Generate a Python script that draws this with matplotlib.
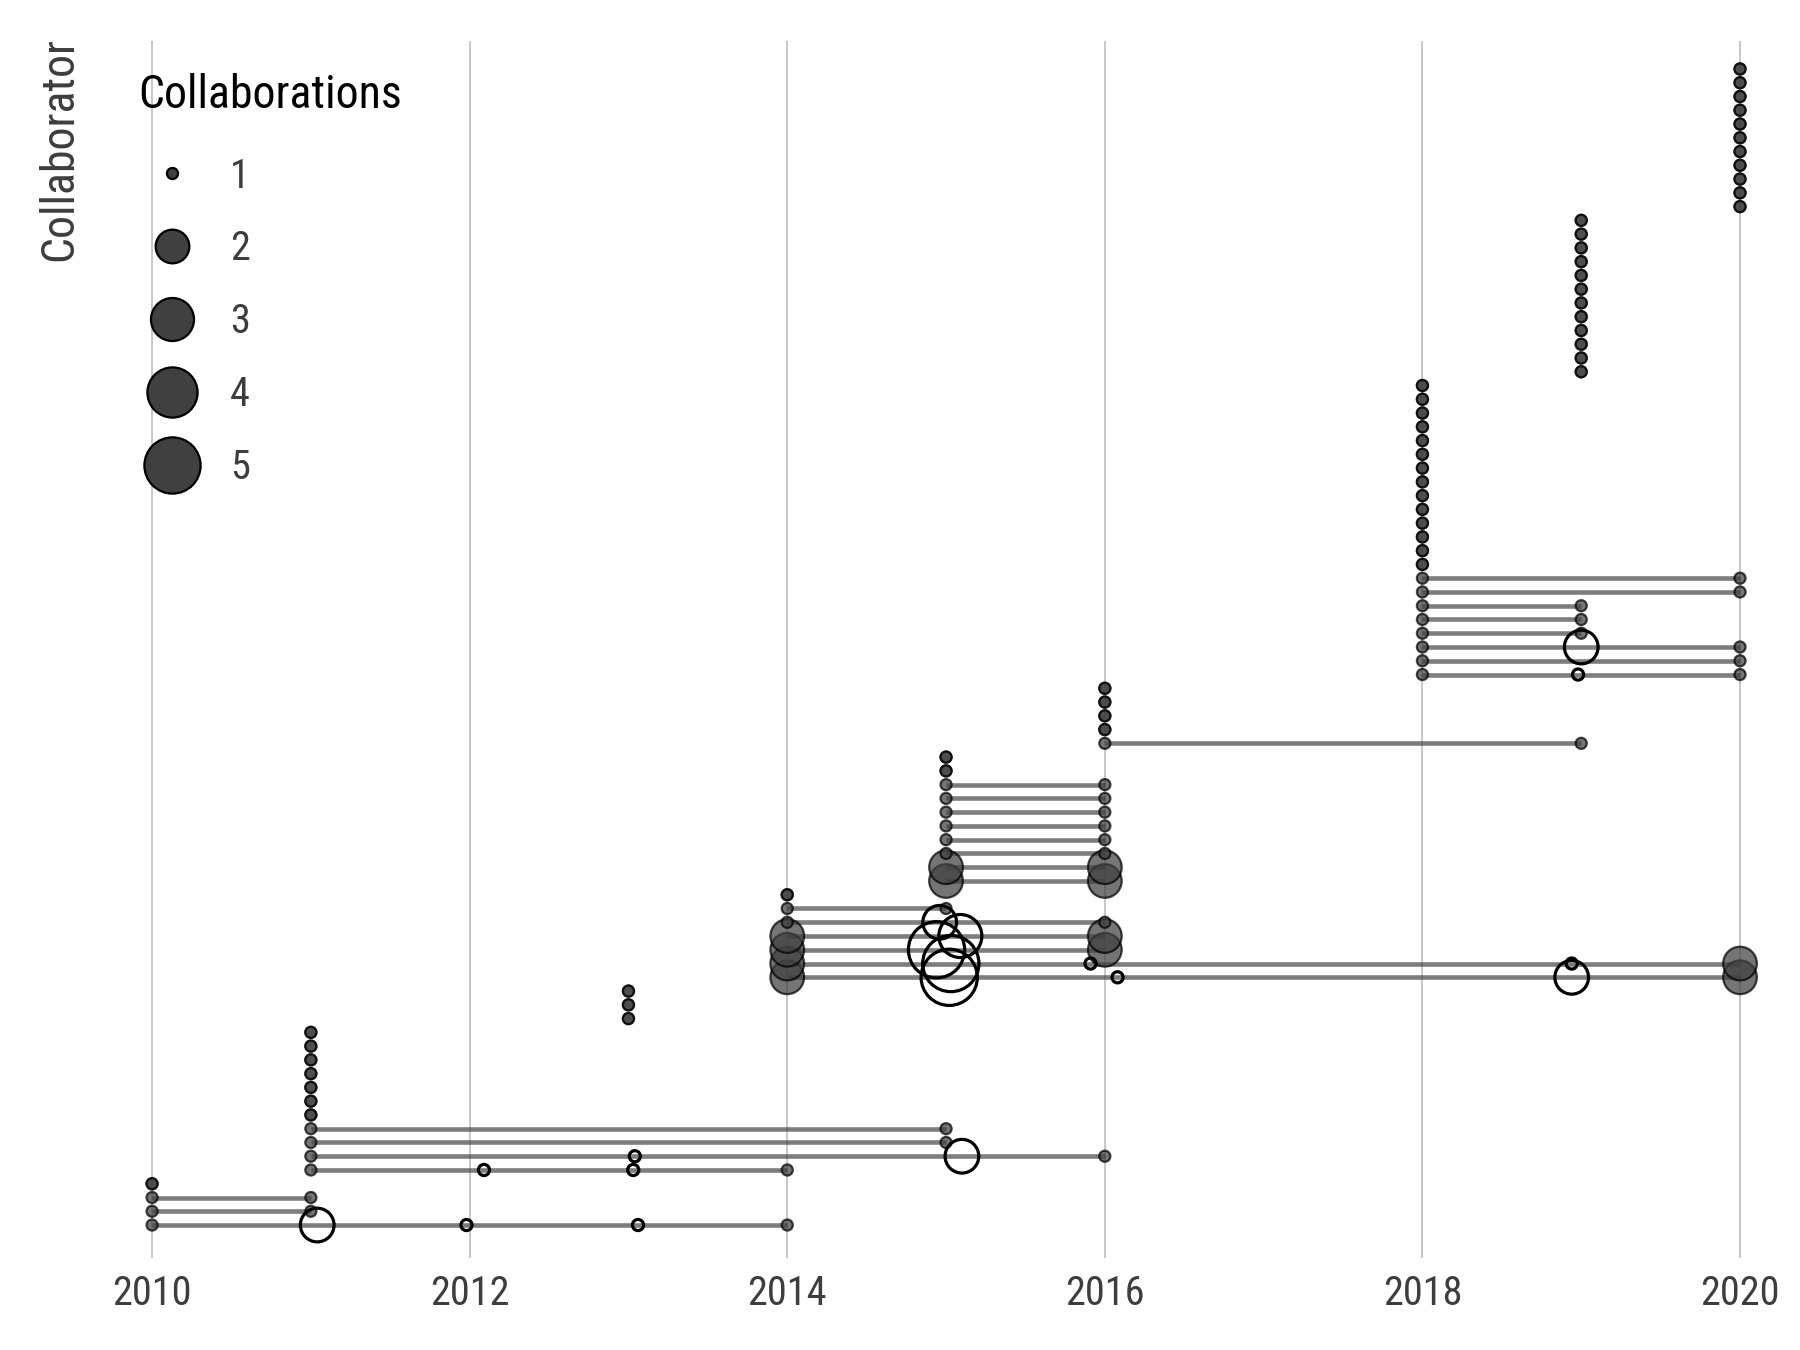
import numpy as np
import matplotlib.pyplot as plt
from matplotlib.lines import Line2D

plt.rcParams['font.family'] = ['Roboto Condensed', 'Archivo Narrow', 'DejaVu Sans']

# one entry per collaborator, listed bottom row first
first_year = [2010, 2010, 2010, 2010,
              2011, 2011, 2011, 2011, 2011, 2011, 2011, 2011, 2011, 2011, 2011,
              2013, 2013, 2013,
              2014, 2014, 2014, 2014, 2014, 2014, 2014,
              2015, 2015, 2015, 2015, 2015, 2015, 2015, 2015, 2015, 2015,
              2016, 2016, 2016, 2016, 2016,
              2018, 2018, 2018, 2018, 2018, 2018, 2018, 2018,
              2018, 2018, 2018, 2018, 2018, 2018, 2018, 2018, 2018, 2018, 2018, 2018, 2018, 2018,
              2019, 2019, 2019, 2019, 2019, 2019, 2019, 2019, 2019, 2019, 2019, 2019,
              2020, 2020, 2020, 2020, 2020, 2020, 2020, 2020, 2020, 2020, 2020]
last_year = [2014, 2011, 2011, 2010,
             2014, 2016, 2015, 2015, 2011, 2011, 2011, 2011, 2011, 2011, 2011,
             2013, 2013, 2013,
             2020, 2020, 2016, 2016, 2016, 2015, 2014,
             2016, 2016, 2016, 2016, 2016, 2016, 2016, 2016, 2015, 2015,
             2019, 2016, 2016, 2016, 2016,
             2020, 2020, 2020, 2019, 2019, 2019, 2020, 2020,
             2018, 2018, 2018, 2018, 2018, 2018, 2018, 2018, 2018, 2018, 2018, 2018, 2018, 2018,
             2019, 2019, 2019, 2019, 2019, 2019, 2019, 2019, 2019, 2019, 2019, 2019,
             2020, 2020, 2020, 2020, 2020, 2020, 2020, 2020, 2020, 2020, 2020]
# collaborations in the first / last year
first_n = [1, 1, 1, 1,
           1, 1, 1, 1, 1, 1, 1, 1, 1, 1, 1,
           1, 1, 1,
           2, 2, 2, 2, 1, 1, 1,
           2, 2, 1, 1, 1, 1, 1, 1, 1, 1,
           1, 1, 1, 1, 1,
           1, 1, 1, 1, 1, 1, 1, 1,
           1, 1, 1, 1, 1, 1, 1, 1, 1, 1, 1, 1, 1, 1,
           1, 1, 1, 1, 1, 1, 1, 1, 1, 1, 1, 1,
           1, 1, 1, 1, 1, 1, 1, 1, 1, 1, 1]
last_n = [1, 1, 1, 1,
          1, 1, 1, 1, 1, 1, 1, 1, 1, 1, 1,
          1, 1, 1,
          2, 2, 2, 2, 1, 1, 1,
          2, 2, 1, 1, 1, 1, 1, 1, 1, 1,
          1, 1, 1, 1, 1,
          1, 1, 1, 1, 1, 1, 1, 1,
          1, 1, 1, 1, 1, 1, 1, 1, 1, 1, 1, 1, 1, 1,
          1, 1, 1, 1, 1, 1, 1, 1, 1, 1, 1, 1,
          1, 1, 1, 1, 1, 1, 1, 1, 1, 1, 1]

# collaborations in the years in between (slightly jittered)
mid_row = [0, 0, 0, 4, 4, 5, 5, 18, 18, 18, 19, 19, 19, 20, 21, 22, 40, 42]
mid_year = [2011.04, 2011.98, 2013.06, 2012.09, 2013.03, 2013.04, 2015.10,
            2015.02, 2016.08, 2018.94, 2015.03, 2015.91, 2018.94,
            2014.94, 2015.09, 2014.96, 2018.98, 2019.00]
mid_n = [2, 1, 1, 1, 1, 1, 2, 5, 1, 2, 5, 1, 1, 5, 3, 2, 1, 2]

legend_values = [1, 2, 3, 4, 5]


def msize(n):
    # area-like scaling, diameter in points
    return 8 + 32.5 * np.sqrt((np.asarray(n, dtype=float) - 1) / 4)


rows = np.arange(len(first_year))
first_year = np.array(first_year)
last_year = np.array(last_year)

fig = plt.figure(figsize=(18, 13.5), dpi=100)
ax = fig.add_axes([0.0492, 0.0681, 0.951, 0.9012])

span = last_year > first_year
ax.hlines(rows[span], first_year[span], last_year[span], color='#404040',
          alpha=0.68, lw=3.3, zorder=1)
ax.scatter(first_year, rows, s=msize(first_n) ** 2, c='#404040',
           edgecolors='black', linewidths=1.6, alpha=0.72, zorder=2)
ax.scatter(last_year, rows, s=msize(last_n) ** 2, c='#404040',
           edgecolors='black', linewidths=1.6, alpha=0.72, zorder=2)
ax.scatter(mid_year, mid_row, s=msize(mid_n) ** 2, facecolors='none',
           edgecolors='black', linewidths=2.3, zorder=3)

ax.set_xlim(2009.6, 2020.38)
ax.set_ylim(-2.4, 86)
ax.set_xticks(range(2010, 2021, 2))
ax.set_yticks([])
for s in ax.spines.values():
    s.set_visible(False)
ax.grid(axis='x', color='#bdbdbd', lw=1.2)
ax.set_axisbelow(True)
ax.tick_params(axis='x', length=0, pad=11.5, labelsize=29, labelcolor='#3d3d3d')

fig.text(0.033, 0.9725, 'Collaborator', rotation=90, va='top', ha='center',
         fontsize=33, color='#3d3d3d')

# size legend
fig.text(138 / 1800, 1 - 108 / 1350, 'Collaborations', va='baseline',
         ha='left', fontsize=33, color='black')
handles = [Line2D([], [], ls='', marker='o', markersize=msize(v),
                  markerfacecolor='#404040', markeredgecolor='black',
                  markeredgewidth=1.6) for v in legend_values]
ax.legend(handles, [str(v) for v in legend_values],
          loc='upper left', bbox_to_anchor=(138 / 1800, 1 - 156.5 / 1350),
          bbox_transform=fig.transFigure, frameon=False, fontsize=29,
          labelspacing=0.84, handlelength=1.68,
          handletextpad=0.6, borderpad=0, borderaxespad=0,
          labelcolor='#3d3d3d')

fig.savefig('out.png', dpi=100)
